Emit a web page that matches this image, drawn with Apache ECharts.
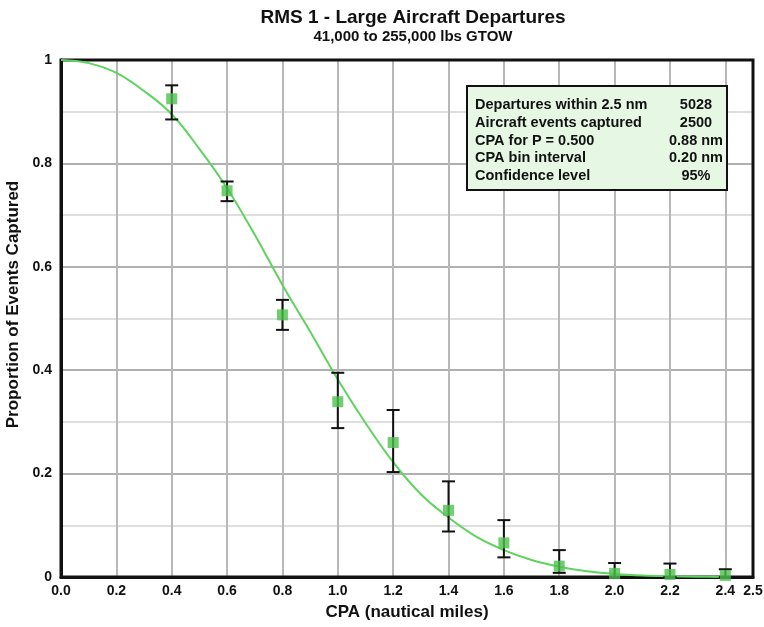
<!DOCTYPE html>
<html>
<head>
<meta charset="utf-8">
<script src="https://cdn.jsdelivr.net/npm/echarts@6/dist/echarts.min.js"></script>
<style>
html,body{margin:0;padding:0;background:#fff;}
#chart{width:764px;height:627px;}
</style>
</head>
<body>
<div id="chart"></div>
<script>
// ---- data ----
const binCPA      = [0.4, 0.6, 0.8, 1.0, 1.2, 1.4, 1.6, 1.8, 2.0, 2.2, 2.4];
const proportion  = [0.925, 0.747, 0.507, 0.339, 0.260, 0.129, 0.066, 0.021, 0.007, 0.005, 0.003];
const upperCI     = [0.951, 0.765, 0.536, 0.395, 0.323, 0.185, 0.110, 0.052, 0.027, 0.026, 0.015];
const lowerCI     = [0.885, 0.727, 0.478, 0.288, 0.203, 0.088, 0.038, 0.008, 0.000, 0.000, 0.000];

const curveCPA    = [0, 0.1, 0.2, 0.3, 0.4, 0.5, 0.6, 0.7, 0.8, 0.9, 1.0, 1.1, 1.2, 1.3, 1.4, 1.5, 1.6, 1.7, 1.8, 1.9, 2.0, 2.1, 2.2, 2.3, 2.4];
const curveP      = [1.0, 0.994, 0.975, 0.940, 0.895, 0.828, 0.752, 0.662, 0.565, 0.475, 0.382, 0.298, 0.222, 0.160, 0.115, 0.078, 0.052, 0.033, 0.020, 0.011, 0.006, 0.003, 0.0015, 0.0006, 0.0002];

const infoLabels  = ['Departures within 2.5 nm', 'Aircraft events captured', 'CPA for P = 0.500', 'CPA bin interval', 'Confidence level'];
const infoValues  = ['5028', '2500', '0.88 nm', '0.20 nm', '95%'];

const titleText    = 'RMS 1 - Large Aircraft Departures';
const subtitleText = '41,000 to 255,000 lbs GTOW';
const xName = 'CPA (nautical miles)';
const yName = 'Proportion of Events Captured';

// ---- chart ----
const FONT = '"Liberation Sans", Arial, sans-serif';
const chart = echarts.init(document.getElementById('chart'), null, {renderer: 'canvas'});

const errData = binCPA.map((x, i) => [x, lowerCI[i], upperCI[i]]);
const ptData  = binCPA.map((x, i) => [x, proportion[i]]);
const curveData = curveCPA.map((x, i) => [x, curveP[i]]);

const graphics = [{
  type: 'rect', z: 100,
  shape: {x: 467, y: 86, width: 260, height: 104},
  style: {fill: '#e6f8e4', stroke: '#111', lineWidth: 2}
}];
infoLabels.forEach((t, i) => {
  graphics.push({type: 'text', z: 101, x: 475, y: 105 + i * 17.8,
    style: {text: t, font: 'bold 14.5px ' + FONT, fill: '#111', textVerticalAlign: 'middle', textAlign: 'left'}});
  graphics.push({type: 'text', z: 101, x: 696, y: 105 + i * 17.8,
    style: {text: infoValues[i], font: 'bold 14.5px ' + FONT, fill: '#111', textVerticalAlign: 'middle', textAlign: 'center'}});
});

const option = {
  backgroundColor: '#fff',
  animation: false,
  title: {
    text: titleText, subtext: subtitleText, left: 408, textAlign: 'center', top: 3, itemGap: 2,
    textStyle: {fontFamily: FONT, fontWeight: 'bold', fontSize: 19, color: '#111'},
    subtextStyle: {fontFamily: FONT, fontWeight: 'bold', fontSize: 15, color: '#111'}
  },
  grid: {left: 61, right: 11, top: 60, bottom: 50, show: true, borderColor: '#111', borderWidth: 3, z: 3,
    containLabel: false, outerBoundsMode: 'none'},
  xAxis: {
    type: 'value', min: 0, max: 2.5, interval: 0.2,
    name: xName, nameLocation: 'middle', nameGap: 27,
    nameTextStyle: {fontFamily: FONT, fontWeight: 'bold', fontSize: 17, color: '#111'},
    axisLine: {show: true, lineStyle: {color: '#111', width: 3}},
    axisTick: {show: false},
    axisLabel: {fontFamily: FONT, fontWeight: 'bold', fontSize: 14, color: '#111', margin: 7,
      formatter: v => v.toFixed(1)},
    splitLine: {show: true, lineStyle: {color: '#b8b8b8', width: 2}}
  },
  yAxis: {
    type: 'value', min: 0, max: 1, interval: 0.1,
    name: yName, nameLocation: 'middle', nameGap: 37,
    nameTextStyle: {fontFamily: FONT, fontWeight: 'bold', fontSize: 17, color: '#111', padding: [0, 0, 0, 28]},
    axisLine: {show: true, lineStyle: {color: '#111', width: 3}},
    axisTick: {show: false},
    axisLabel: {fontFamily: FONT, fontWeight: 'bold', fontSize: 14, color: '#111', margin: 9,
      formatter: v => {
        const k = Math.round(v * 10);
        if (k % 2 !== 0) return '';
        if (k === 0) return '0';
        if (k === 10) return '1';
        return v.toFixed(1);
      }},
    splitLine: {show: true, lineStyle: {color: ['#b0b0b0', '#dedede'], width: 2}}
  },
  series: [
    {
      type: 'line', data: curveData, smooth: 0.4, showSymbol: false, symbol: 'none',
      lineStyle: {color: '#5fd35f', width: 2}, z: 4, clip: true
    },
    {
      type: 'custom', data: errData, z: 5,
      renderItem: (params, api) => {
        const x = api.value(0);
        const lo = api.coord([x, api.value(1)]);
        const hi = api.coord([x, api.value(2)]);
        const w = 6.5;
        const st = {stroke: '#111', lineWidth: 2};
        return {type: 'group', children: [
          {type: 'line', shape: {x1: lo[0], y1: lo[1], x2: hi[0], y2: hi[1]}, style: st},
          {type: 'line', shape: {x1: lo[0] - w, y1: lo[1], x2: lo[0] + w, y2: lo[1]}, style: st},
          {type: 'line', shape: {x1: hi[0] - w, y1: hi[1], x2: hi[0] + w, y2: hi[1]}, style: st}
        ]};
      }
    },
    {
      type: 'scatter', data: ptData, symbol: 'rect', symbolSize: 11, z: 6,
      itemStyle: {color: '#4cc24c'}
    }
  ],
  graphic: graphics
};
chart.setOption(option);
</script>
</body>
</html>
